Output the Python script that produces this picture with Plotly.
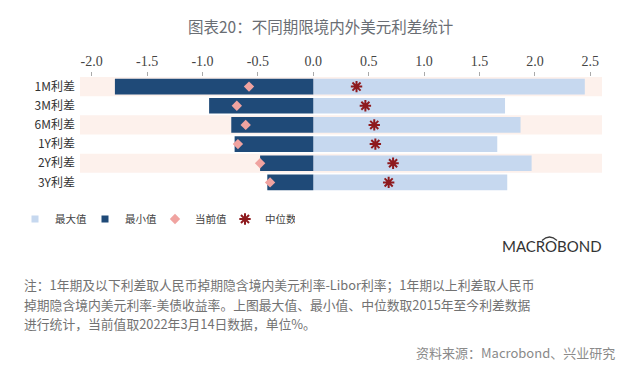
import plotly.graph_objects as go

# ---------------- data ----------------
categories = ["1M利差", "3M利差", "6M利差", "1Y利差", "2Y利差", "3Y利差"]
max_vals = [2.45, 1.73, 1.87, 1.66, 1.97, 1.75]
min_vals = [-1.79, -0.94, -0.74, -0.71, -0.48, -0.415]
current_vals = [-0.58, -0.69, -0.61, -0.68, -0.48, -0.39]
median_vals = [0.39, 0.47, 0.55, 0.56, 0.72, 0.68]
x_ticks = [-2.0, -1.5, -1.0, -0.5, 0.0, 0.5, 1.0, 1.5, 2.0, 2.5]

series_names = ["最大值", "最小值", "当前值", "中位数"]
title_text = "图表20：不同期限境内外美元利差统计"
note_lines = [
    "注：1年期及以下利差取人民币掉期隐含境内美元利率-Libor利率；1年期以上利差取人民币",
    "掉期隐含境内美元利率-美债收益率。上图最大值、最小值、中位数取2015年至今利差数据",
    "进行统计，当前值取2022年3月14日数据，单位%。",
]
source_text = "资料来源：Macrobond、兴业研究"
logo_text = "MACROBOND"

# ---------------- layout geometry (pixels) ----------------
W, H = 640, 369
L, R, T, B = 80, 38, 77, 177
PW, PH = W - L - R, H - T - B


def px_x(px):
    return (px - L) / PW


def px_y(py):
    return (H - B - py) / PH


CJK = "Noto Sans CJK SC"
SERIF = "Liberation Serif"

C_MAX, C_MIN, C_CUR, C_MED = "#c6d8ef", "#1f4a78", "#f0a3a0", "#8e1a1e"

fig = go.Figure()

fig.add_trace(go.Bar(
    y=categories, x=max_vals, base=0, orientation="h", name=series_names[0],
    marker=dict(color=C_MAX, line=dict(width=0)), width=0.82, showlegend=False,
))
fig.add_trace(go.Bar(
    y=categories, x=min_vals, base=0, orientation="h", name=series_names[1],
    marker=dict(color=C_MIN, line=dict(width=0)), width=0.82, showlegend=False,
))
# legend entries with small square keys for the bar series
fig.add_trace(go.Scatter(x=[None], y=[None], mode="markers", name=series_names[0],
                         marker=dict(symbol="square", size=7, color=C_MAX)))
fig.add_trace(go.Scatter(x=[None], y=[None], mode="markers", name=series_names[1],
                         marker=dict(symbol="square", size=7, color=C_MIN)))
fig.add_trace(go.Scatter(
    y=categories, x=current_vals, mode="markers", name=series_names[2],
    marker=dict(symbol="diamond", size=8, color=C_CUR, line=dict(width=0)),
))
fig.add_trace(go.Scatter(
    y=categories, x=median_vals, mode="markers", name=series_names[3],
    marker=dict(symbol="asterisk", size=9.5, color=C_MED,
                line=dict(width=2, color=C_MED)),
))

# alternating pale row bands
shapes = []
for i in range(len(categories)):
    if i % 2 == 0:
        shapes.append(dict(type="rect", xref="paper", x0=0, x1=1, yref="y",
                           y0=i - 0.5, y1=i + 0.5, fillcolor="#fdf1ec",
                           line=dict(width=0), layer="below"))

# logo arc over the "O"
shapes.append(dict(type="path", xref="paper", yref="paper",
                   path="M {},{} Q {},{} {},{}".format(
                       px_x(542), px_y(240.5), px_x(549.5), px_y(233.5),
                       px_x(557), px_y(240.5)),
                   line=dict(color="#3a3a3a", width=1.2)))

annotations = [
    dict(text=title_text, xref="paper", yref="paper", x=px_x(320), y=px_y(26),
         xanchor="center", yanchor="middle", showarrow=False,
         font=dict(family=CJK, size=15.5, color="#6a6e74")),
    dict(text=logo_text, xref="paper", yref="paper", x=px_x(500), y=px_y(246),
         xanchor="left", yanchor="middle", showarrow=False,
         font=dict(family="Lato", size=15, color="#333333")),
    dict(text=source_text, xref="paper", yref="paper", x=px_x(617), y=px_y(352),
         xanchor="right", yanchor="middle", showarrow=False,
         font=dict(family=CJK, size=13, color="#8a8a8a")),
]
for line, yy in zip(note_lines, [284, 304, 323]):
    annotations.append(dict(text=line, xref="paper", yref="paper", x=px_x(22), y=px_y(yy),
                            xanchor="left", yanchor="middle", showarrow=False,
                            font=dict(family=CJK, size=12.8, color="#727272")))

fig.update_layout(
    width=W, height=H,
    margin=dict(l=L, r=R, t=T, b=B, autoexpand=False),
    paper_bgcolor="white", plot_bgcolor="white",
    barmode="overlay",
    showlegend=True,
    legend=dict(orientation="h", x=px_x(15), y=px_y(219), xanchor="left", yanchor="middle",
                font=dict(family=CJK, size=10.5, color="#444444"),
                itemwidth=30, entrywidth=25, entrywidthmode="pixels",
                tracegroupgap=0, bgcolor="rgba(0,0,0,0)"),
    xaxis=dict(side="top", range=[-2.105, 2.605], tickvals=x_ticks,
               ticktext=["{:.1f}".format(v) for v in x_ticks],
               showgrid=False, zeroline=False, showline=False,
               ticks="outside", ticklen=4, tickcolor="#aaaaaa",
               tickfont=dict(family=SERIF, size=14, color="#444444")),
    yaxis=dict(categoryorder="array", categoryarray=categories, range=[5.5, -0.5],
               showgrid=False, zeroline=False, showline=False, ticks="",
               ticklabelstandoff=4,
               tickfont=dict(family=CJK, size=12, color="#333333")),
    shapes=shapes,
    annotations=annotations,
)

fig.write_html("out.html", config={"displayModeBar": False},
               post_script="document.body.style.margin='0';")
